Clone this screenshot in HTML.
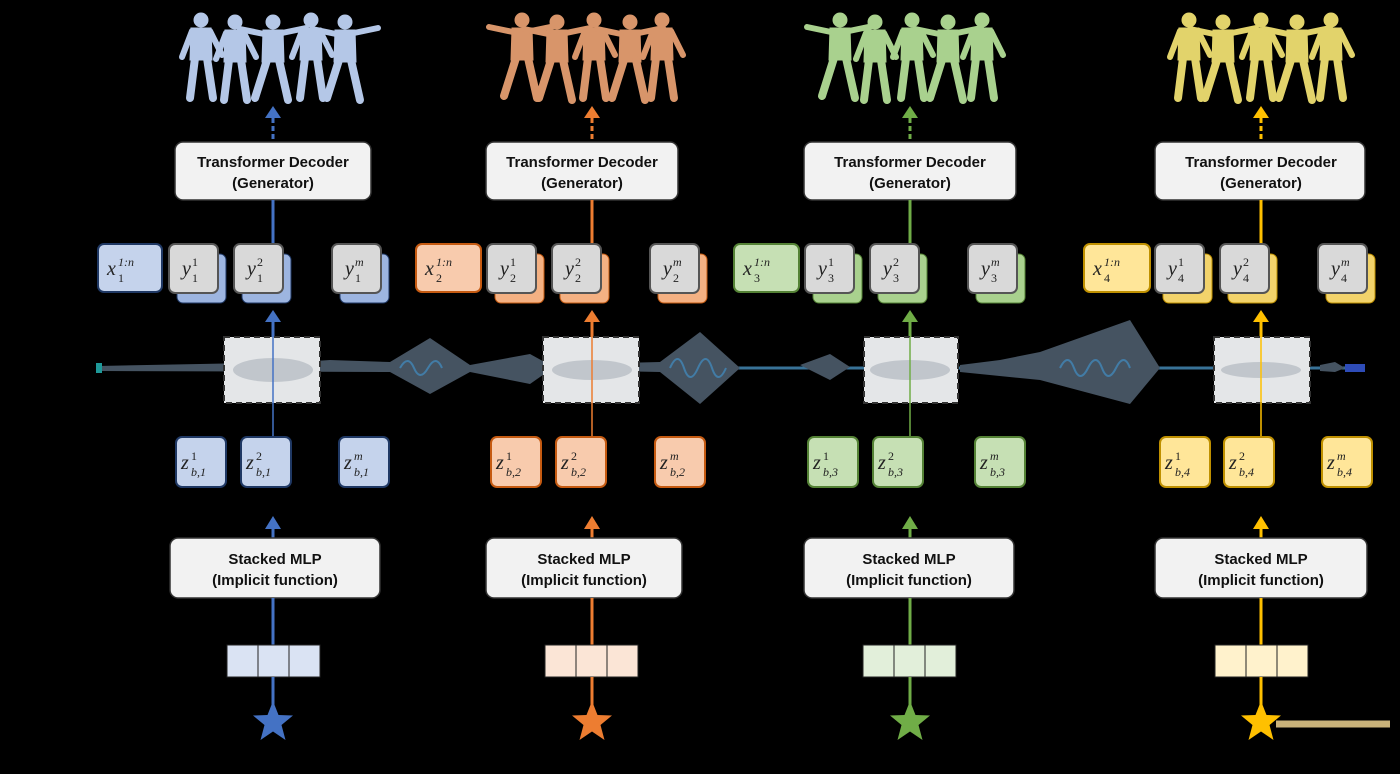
<!DOCTYPE html>
<html><head><meta charset="utf-8"><style>
html,body{margin:0;padding:0;background:#000;}
svg{display:block}
.t{font-family:"Liberation Sans",sans-serif;font-weight:bold;font-size:15px;fill:#111;text-anchor:middle}
.m{font-family:"Liberation Serif",serif;font-style:italic;font-size:20px;fill:#222}
.s{font-family:"Liberation Serif",serif;font-size:12px;fill:#222}
.si{font-family:"Liberation Serif",serif;font-style:italic;font-size:12px;fill:#222}
</style></head><body>
<svg width="1400" height="774" viewBox="0 0 1400 774" xmlns="http://www.w3.org/2000/svg">
<defs>
<g id="fig">
 <circle cx="0" cy="8" r="7"/>
 <path d="M-10 16 h20 l1 32 h-22 z"/>
 <path d="M-6 46 l-5 40 M6 46 l6 40" stroke-width="8" stroke-linecap="round" fill="none"/>
 <path d="M-9 19 l-10 26 M9 19 l12 24" stroke-width="6" stroke-linecap="round" fill="none"/>
</g>
<g id="fig2">
 <circle cx="0" cy="8" r="7"/>
 <path d="M-10 16 h20 l1 32 h-22 z"/>
 <path d="M-6 46 l-12 38 M6 46 l9 40" stroke-width="8" stroke-linecap="round" fill="none"/>
 <path d="M-9 20 l-24 -5 M9 19 l24 -5" stroke-width="6" stroke-linecap="round" fill="none"/>
</g>
<polygon id="star" points="0,-21 5.5,-7 20,-6.5 8.5,3 12.5,18 0,9.5 -12.5,18 -8.5,3 -20,-6.5 -5.5,-7"/>
</defs>

<!-- waveform -->
<g fill="#4d5c6c" opacity="0.9">
 <line x1="98" y1="368" x2="1365" y2="368" stroke="#3f7fa8" stroke-width="3"/>
 <polygon points="98,366 200,364 300,362 330,360 390,362 430,338 470,365 530,354 550,365 660,362 700,332 740,368 700,404 660,372 550,370 530,384 470,372 430,394 390,372 100,371"/>
 <polygon points="800,365 830,354 850,367 830,380"/>
 <polygon points="960,365 1000,360 1040,352 1130,320 1160,368 1130,404 1040,380 960,372"/>
 <polygon points="1320,365 1335,362 1345,368 1335,372 1320,371"/>
 <rect x="1345" y="364" width="20" height="8" fill="#3355cc"/>
 <rect x="96" y="363" width="6" height="10" fill="#2aa"/>
 <path d="M400 368 q8 -14 14 0 t14 0 t14 0 M670 368 q8 -18 14 0 t14 0 t14 0 t14 0 M1060 368 q8 -16 14 0 t14 0 t14 0 t14 0 t14 0" stroke="#4a8ab8" stroke-width="2" fill="none"/>
</g>

<!-- figures -->
<g transform="translate(273,0)" fill="#b4c7e7" stroke="#b4c7e7">
  <use href="#fig" x="-72" y="12"/><use href="#fig" x="-38" y="14"/><use href="#fig2" x="0" y="14"/><use href="#fig" x="38" y="12"/><use href="#fig2" x="72" y="14"/>
</g>
<g transform="translate(592,0)" fill="#d8956a" stroke="#d8956a"><use href="#fig2" x="-70" y="12"/><use href="#fig2" x="-35" y="14"/><use href="#fig" x="2" y="12"/><use href="#fig2" x="38" y="14"/><use href="#fig" x="70" y="12"/></g>
<g transform="translate(910,0)" fill="#a9d18e" stroke="#a9d18e"><use href="#fig2" x="-70" y="12"/><use href="#fig" x="-35" y="14"/><use href="#fig" x="2" y="12"/><use href="#fig2" x="38" y="14"/><use href="#fig" x="72" y="12"/></g>
<g transform="translate(1261,0)" fill="#e2d36b" stroke="#e2d36b"><use href="#fig" x="-72" y="12"/><use href="#fig2" x="-38" y="14"/><use href="#fig" x="0" y="12"/><use href="#fig2" x="36" y="14"/><use href="#fig" x="70" y="12"/></g>

<!-- column 1 -->
<g transform="translate(273,0)">
 <line x1="0" y1="118" x2="0" y2="142" stroke="#4472c4" stroke-width="3" stroke-dasharray="5,3"/>
 <polygon points="-8,118 8,118 0,106" fill="#4472c4"/>
 <rect x="-98" y="142" width="196" height="58" rx="8" fill="#f2f2f2" stroke="#333" stroke-width="1.5"/>
 <text class="t" x="0" y="167">Transformer Decoder</text><text class="t" x="0" y="188">(Generator)</text>
 <line x1="0" y1="200" x2="0" y2="244" stroke="#4472c4" stroke-width="3"/>
 <rect x="-175" y="244" width="64" height="48" rx="6" fill="#c5d3ec" stroke="#1f3864" stroke-width="2"/>
 <text class="m" x="-166" y="275">x</text><text class="si" x="-155" y="266">1:n</text><text class="s" x="-155" y="282">1</text>
 <rect x="-96" y="254" width="49" height="49" rx="6" fill="#9db5e0" stroke="#1f3864"/>
 <rect x="-104" y="244" width="49" height="49" rx="6" fill="#d9d9d9" stroke="#555" stroke-width="2"/>
 <text class="m" x="-91" y="275">y</text><text class="s" x="-81" y="266">1</text><text class="s" x="-81" y="282">1</text>
 <rect x="-31" y="254" width="49" height="49" rx="6" fill="#9db5e0" stroke="#1f3864"/>
 <rect x="-39" y="244" width="49" height="49" rx="6" fill="#d9d9d9" stroke="#555" stroke-width="2"/>
 <text class="m" x="-26" y="275">y</text><text class="s" x="-16" y="266">2</text><text class="s" x="-16" y="282">1</text>
 <rect x="67" y="254" width="49" height="49" rx="6" fill="#9db5e0" stroke="#1f3864"/>
 <rect x="59" y="244" width="49" height="49" rx="6" fill="#d9d9d9" stroke="#555" stroke-width="2"/>
 <text class="m" x="72" y="275">y</text><text class="si" x="82" y="266">m</text><text class="s" x="82" y="282">1</text>
 <polygon points="-8,322 8,322 0,310" fill="#4472c4"/>
 <line x1="0" y1="320" x2="0" y2="337" stroke="#4472c4" stroke-width="3"/>
 <rect x="-49" y="337" width="96" height="66" fill="#e4e6e8" stroke="#333" stroke-width="2" stroke-dasharray="6,4"/>
 <ellipse cx="0" cy="370" rx="40" ry="12" fill="#b8bec4" opacity="0.8"/>
 <line x1="0" y1="337" x2="0" y2="437" stroke="#4472c4" stroke-width="1.5"/>
 <rect x="-97" y="437" width="50" height="50" rx="6" fill="#c5d3ec" stroke="#1f3864" stroke-width="2"/>
 <text class="m" x="-92" y="469">z</text><text class="s" x="-82" y="460">1</text><text class="si" x="-82" y="476">b,1</text>
 <rect x="-32" y="437" width="50" height="50" rx="6" fill="#c5d3ec" stroke="#1f3864" stroke-width="2"/>
 <text class="m" x="-27" y="469">z</text><text class="s" x="-17" y="460">2</text><text class="si" x="-17" y="476">b,1</text>
 <rect x="66" y="437" width="50" height="50" rx="6" fill="#c5d3ec" stroke="#1f3864" stroke-width="2"/>
 <text class="m" x="71" y="469">z</text><text class="si" x="81" y="460">m</text><text class="si" x="81" y="476">b,1</text>
 <polygon points="-8,529 8,529 0,516" fill="#4472c4"/>
 <line x1="0" y1="528" x2="0" y2="538" stroke="#4472c4" stroke-width="3"/>
 <rect x="-103" y="538" width="210" height="60" rx="8" fill="#f2f2f2" stroke="#333" stroke-width="1.5"/>
 <text class="t" x="2" y="564">Stacked MLP</text><text class="t" x="2" y="585">(Implicit function)</text>
 <line x1="0" y1="598" x2="0" y2="645" stroke="#4472c4" stroke-width="3"/>
 <rect x="-46" y="645" width="31" height="32" fill="#dae3f3" stroke="#222"/>
 <rect x="-15" y="645" width="31" height="32" fill="#dae3f3" stroke="#222"/>
 <rect x="16" y="645" width="31" height="32" fill="#dae3f3" stroke="#222"/>
 <line x1="0" y1="677" x2="0" y2="712" stroke="#4472c4" stroke-width="3"/>
 <use href="#star" x="0" y="722" fill="#4472c4"/>
</g>

<!-- column 2 -->
<g transform="translate(592,0)">
 <line x1="0" y1="118" x2="0" y2="142" stroke="#ed7d31" stroke-width="3" stroke-dasharray="5,3"/>
 <polygon points="-8,118 8,118 0,106" fill="#ed7d31"/>
 <rect x="-106" y="142" width="192" height="58" rx="8" fill="#f2f2f2" stroke="#333" stroke-width="1.5"/>
 <text class="t" x="-10" y="167">Transformer Decoder</text><text class="t" x="-10" y="188">(Generator)</text>
 <line x1="0" y1="200" x2="0" y2="244" stroke="#ed7d31" stroke-width="3"/>
 <rect x="-176" y="244" width="65" height="48" rx="6" fill="#f8cbad" stroke="#c55a11" stroke-width="2"/>
 <text class="m" x="-167" y="275">x</text><text class="si" x="-156" y="266">1:n</text><text class="s" x="-156" y="282">2</text>
 <rect x="-97" y="254" width="49" height="49" rx="6" fill="#f4b183" stroke="#c55a11"/>
 <rect x="-105" y="244" width="49" height="49" rx="6" fill="#d9d9d9" stroke="#555" stroke-width="2"/>
 <text class="m" x="-92" y="275">y</text><text class="s" x="-82" y="266">1</text><text class="s" x="-82" y="282">2</text>
 <rect x="-32" y="254" width="49" height="49" rx="6" fill="#f4b183" stroke="#c55a11"/>
 <rect x="-40" y="244" width="49" height="49" rx="6" fill="#d9d9d9" stroke="#555" stroke-width="2"/>
 <text class="m" x="-27" y="275">y</text><text class="s" x="-17" y="266">2</text><text class="s" x="-17" y="282">2</text>
 <rect x="66" y="254" width="49" height="49" rx="6" fill="#f4b183" stroke="#c55a11"/>
 <rect x="58" y="244" width="49" height="49" rx="6" fill="#d9d9d9" stroke="#555" stroke-width="2"/>
 <text class="m" x="71" y="275">y</text><text class="si" x="81" y="266">m</text><text class="s" x="81" y="282">2</text>
 <polygon points="-8,322 8,322 0,310" fill="#ed7d31"/>
 <line x1="0" y1="320" x2="0" y2="337" stroke="#ed7d31" stroke-width="3"/>
 <rect x="-49" y="337" width="96" height="66" fill="#e4e6e8" stroke="#333" stroke-width="2" stroke-dasharray="6,4"/>
 <ellipse cx="0" cy="370" rx="40" ry="10" fill="#b8bec4" opacity="0.8"/>
 <line x1="0" y1="337" x2="0" y2="437" stroke="#ed7d31" stroke-width="1.5"/>
 <rect x="-101" y="437" width="50" height="50" rx="6" fill="#f8cbad" stroke="#c55a11" stroke-width="2"/>
 <text class="m" x="-96" y="469">z</text><text class="s" x="-86" y="460">1</text><text class="si" x="-86" y="476">b,2</text>
 <rect x="-36" y="437" width="50" height="50" rx="6" fill="#f8cbad" stroke="#c55a11" stroke-width="2"/>
 <text class="m" x="-31" y="469">z</text><text class="s" x="-21" y="460">2</text><text class="si" x="-21" y="476">b,2</text>
 <rect x="63" y="437" width="50" height="50" rx="6" fill="#f8cbad" stroke="#c55a11" stroke-width="2"/>
 <text class="m" x="68" y="469">z</text><text class="si" x="78" y="460">m</text><text class="si" x="78" y="476">b,2</text>
 <polygon points="-8,529 8,529 0,516" fill="#ed7d31"/>
 <line x1="0" y1="528" x2="0" y2="538" stroke="#ed7d31" stroke-width="3"/>
 <rect x="-106" y="538" width="196" height="60" rx="8" fill="#f2f2f2" stroke="#333" stroke-width="1.5"/>
 <text class="t" x="-8" y="564">Stacked MLP</text><text class="t" x="-8" y="585">(Implicit function)</text>
 <line x1="0" y1="598" x2="0" y2="645" stroke="#ed7d31" stroke-width="3"/>
 <rect x="-47" y="645" width="31" height="32" fill="#fbe5d6" stroke="#222"/>
 <rect x="-16" y="645" width="31" height="32" fill="#fbe5d6" stroke="#222"/>
 <rect x="15" y="645" width="31" height="32" fill="#fbe5d6" stroke="#222"/>
 <line x1="0" y1="677" x2="0" y2="712" stroke="#ed7d31" stroke-width="3"/>
 <use href="#star" x="0" y="722" fill="#ed7d31"/>
</g>

<!-- column 3 -->
<g transform="translate(910,0)">
 <line x1="0" y1="118" x2="0" y2="142" stroke="#70ad47" stroke-width="3" stroke-dasharray="5,3"/>
 <polygon points="-8,118 8,118 0,106" fill="#70ad47"/>
 <rect x="-106" y="142" width="212" height="58" rx="8" fill="#f2f2f2" stroke="#333" stroke-width="1.5"/>
 <text class="t" x="0" y="167">Transformer Decoder</text><text class="t" x="0" y="188">(Generator)</text>
 <line x1="0" y1="200" x2="0" y2="244" stroke="#70ad47" stroke-width="3"/>
 <rect x="-176" y="244" width="65" height="48" rx="6" fill="#c6e0b4" stroke="#548235" stroke-width="2"/>
 <text class="m" x="-167" y="275">x</text><text class="si" x="-156" y="266">1:n</text><text class="s" x="-156" y="282">3</text>
 <rect x="-97" y="254" width="49" height="49" rx="6" fill="#a9d18e" stroke="#548235"/>
 <rect x="-105" y="244" width="49" height="49" rx="6" fill="#d9d9d9" stroke="#555" stroke-width="2"/>
 <text class="m" x="-92" y="275">y</text><text class="s" x="-82" y="266">1</text><text class="s" x="-82" y="282">3</text>
 <rect x="-32" y="254" width="49" height="49" rx="6" fill="#a9d18e" stroke="#548235"/>
 <rect x="-40" y="244" width="49" height="49" rx="6" fill="#d9d9d9" stroke="#555" stroke-width="2"/>
 <text class="m" x="-27" y="275">y</text><text class="s" x="-17" y="266">2</text><text class="s" x="-17" y="282">3</text>
 <rect x="66" y="254" width="49" height="49" rx="6" fill="#a9d18e" stroke="#548235"/>
 <rect x="58" y="244" width="49" height="49" rx="6" fill="#d9d9d9" stroke="#555" stroke-width="2"/>
 <text class="m" x="71" y="275">y</text><text class="si" x="81" y="266">m</text><text class="s" x="81" y="282">3</text>
 <polygon points="-8,322 8,322 0,310" fill="#70ad47"/>
 <line x1="0" y1="320" x2="0" y2="337" stroke="#70ad47" stroke-width="3"/>
 <rect x="-46" y="337" width="94" height="66" fill="#e4e6e8" stroke="#333" stroke-width="2" stroke-dasharray="6,4"/>
 <ellipse cx="0" cy="370" rx="40" ry="10" fill="#b8bec4" opacity="0.8"/>
 <line x1="0" y1="337" x2="0" y2="437" stroke="#70ad47" stroke-width="1.5"/>
 <rect x="-102" y="437" width="50" height="50" rx="6" fill="#c6e0b4" stroke="#548235" stroke-width="2"/>
 <text class="m" x="-97" y="469">z</text><text class="s" x="-87" y="460">1</text><text class="si" x="-87" y="476">b,3</text>
 <rect x="-37" y="437" width="50" height="50" rx="6" fill="#c6e0b4" stroke="#548235" stroke-width="2"/>
 <text class="m" x="-32" y="469">z</text><text class="s" x="-22" y="460">2</text><text class="si" x="-22" y="476">b,3</text>
 <rect x="65" y="437" width="50" height="50" rx="6" fill="#c6e0b4" stroke="#548235" stroke-width="2"/>
 <text class="m" x="70" y="469">z</text><text class="si" x="80" y="460">m</text><text class="si" x="80" y="476">b,3</text>
 <polygon points="-8,529 8,529 0,516" fill="#70ad47"/>
 <line x1="0" y1="528" x2="0" y2="538" stroke="#70ad47" stroke-width="3"/>
 <rect x="-106" y="538" width="210" height="60" rx="8" fill="#f2f2f2" stroke="#333" stroke-width="1.5"/>
 <text class="t" x="-1" y="564">Stacked MLP</text><text class="t" x="-1" y="585">(Implicit function)</text>
 <line x1="0" y1="598" x2="0" y2="645" stroke="#70ad47" stroke-width="3"/>
 <rect x="-47" y="645" width="31" height="32" fill="#e2efda" stroke="#222"/>
 <rect x="-16" y="645" width="31" height="32" fill="#e2efda" stroke="#222"/>
 <rect x="15" y="645" width="31" height="32" fill="#e2efda" stroke="#222"/>
 <line x1="0" y1="677" x2="0" y2="712" stroke="#70ad47" stroke-width="3"/>
 <use href="#star" x="0" y="722" fill="#70ad47"/>
</g>

<!-- column 4 -->
<g transform="translate(1261,0)">
 <line x1="0" y1="118" x2="0" y2="142" stroke="#ffc000" stroke-width="3" stroke-dasharray="5,3"/>
 <polygon points="-8,118 8,118 0,106" fill="#ffc000"/>
 <rect x="-106" y="142" width="210" height="58" rx="8" fill="#f2f2f2" stroke="#333" stroke-width="1.5"/>
 <text class="t" x="0" y="167">Transformer Decoder</text><text class="t" x="0" y="188">(Generator)</text>
 <line x1="0" y1="200" x2="0" y2="244" stroke="#ffc000" stroke-width="3"/>
 <rect x="-177" y="244" width="66" height="48" rx="6" fill="#ffe699" stroke="#bf9000" stroke-width="2"/>
 <text class="m" x="-168" y="275">x</text><text class="si" x="-157" y="266">1:n</text><text class="s" x="-157" y="282">4</text>
 <rect x="-98" y="254" width="49" height="49" rx="6" fill="#f2d36b" stroke="#bf9000"/>
 <rect x="-106" y="244" width="49" height="49" rx="6" fill="#d9d9d9" stroke="#555" stroke-width="2"/>
 <text class="m" x="-93" y="275">y</text><text class="s" x="-83" y="266">1</text><text class="s" x="-83" y="282">4</text>
 <rect x="-33" y="254" width="49" height="49" rx="6" fill="#f2d36b" stroke="#bf9000"/>
 <rect x="-41" y="244" width="49" height="49" rx="6" fill="#d9d9d9" stroke="#555" stroke-width="2"/>
 <text class="m" x="-28" y="275">y</text><text class="s" x="-18" y="266">2</text><text class="s" x="-18" y="282">4</text>
 <rect x="65" y="254" width="49" height="49" rx="6" fill="#f2d36b" stroke="#bf9000"/>
 <rect x="57" y="244" width="49" height="49" rx="6" fill="#d9d9d9" stroke="#555" stroke-width="2"/>
 <text class="m" x="70" y="275">y</text><text class="si" x="80" y="266">m</text><text class="s" x="80" y="282">4</text>
 <polygon points="-8,322 8,322 0,310" fill="#ffc000"/>
 <line x1="0" y1="320" x2="0" y2="337" stroke="#ffc000" stroke-width="3"/>
 <rect x="-47" y="337" width="96" height="66" fill="#e4e6e8" stroke="#333" stroke-width="2" stroke-dasharray="6,4"/>
 <ellipse cx="0" cy="370" rx="40" ry="8" fill="#b8bec4" opacity="0.8"/>
 <line x1="0" y1="337" x2="0" y2="437" stroke="#ffc000" stroke-width="1.5"/>
 <rect x="-101" y="437" width="50" height="50" rx="6" fill="#ffe699" stroke="#bf9000" stroke-width="2"/>
 <text class="m" x="-96" y="469">z</text><text class="s" x="-86" y="460">1</text><text class="si" x="-86" y="476">b,4</text>
 <rect x="-37" y="437" width="50" height="50" rx="6" fill="#ffe699" stroke="#bf9000" stroke-width="2"/>
 <text class="m" x="-32" y="469">z</text><text class="s" x="-22" y="460">2</text><text class="si" x="-22" y="476">b,4</text>
 <rect x="61" y="437" width="50" height="50" rx="6" fill="#ffe699" stroke="#bf9000" stroke-width="2"/>
 <text class="m" x="66" y="469">z</text><text class="si" x="76" y="460">m</text><text class="si" x="76" y="476">b,4</text>
 <polygon points="-8,529 8,529 0,516" fill="#ffc000"/>
 <line x1="0" y1="528" x2="0" y2="538" stroke="#ffc000" stroke-width="3"/>
 <rect x="-106" y="538" width="212" height="60" rx="8" fill="#f2f2f2" stroke="#333" stroke-width="1.5"/>
 <text class="t" x="0" y="564">Stacked MLP</text><text class="t" x="0" y="585">(Implicit function)</text>
 <line x1="0" y1="598" x2="0" y2="645" stroke="#ffc000" stroke-width="3"/>
 <rect x="-46" y="645" width="31" height="32" fill="#fff2cc" stroke="#222"/>
 <rect x="-15" y="645" width="31" height="32" fill="#fff2cc" stroke="#222"/>
 <rect x="16" y="645" width="31" height="32" fill="#fff2cc" stroke="#222"/>
 <line x1="0" y1="677" x2="0" y2="712" stroke="#ffc000" stroke-width="3"/>
 <line x1="15" y1="724" x2="129" y2="724" stroke="#c9b27a" stroke-width="7"/>
 <use href="#star" x="0" y="722" fill="#ffc000"/>
</g>
</svg>
</body></html>
